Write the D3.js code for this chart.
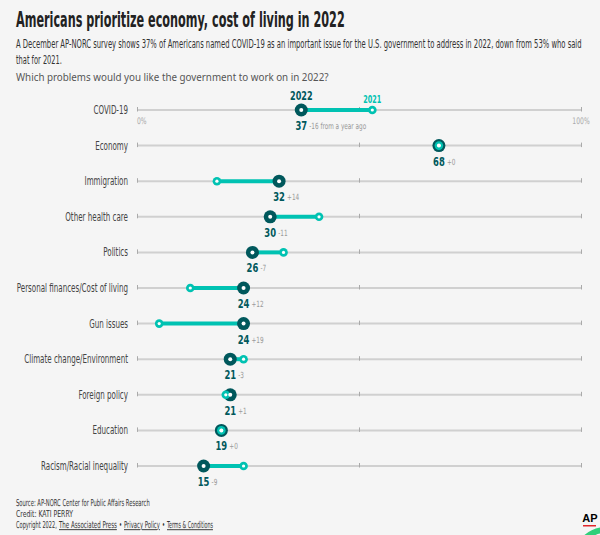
<!DOCTYPE html>
<html>
<head>
<meta charset="utf-8">
<script src="https://cdn.jsdelivr.net/npm/d3@7"></script>
<style>
  body { margin: 0; background: #f5f5f5; }
  svg { display: block; }
</style>
</head>
<body>
<script>
// data
var issues = ["COVID-19", "Economy", "Immigration", "Other health care", "Politics",
  "Personal finances/Cost of living", "Gun issues", "Climate change/Environment",
  "Foreign policy", "Education", "Racism/Racial inequality"];
var values2022 = [37, 68, 32, 30, 26, 24, 24, 21, 21, 19, 15];
var values2021 = [53, 68, 18, 41, 33, 12, 5, 24, 20, 19, 24];
var changes = ["-16 from a year ago", "+0", "+14", "-11", "-7", "+12", "+19", "-3", "+1", "+0", "-9"];
var axisTicks = [0, 50, 100];

var dark = "#00585c", bright = "#00c2b2";
var narrow = "'Liberation Sans Narrow', 'DejaVu Sans Condensed', sans-serif";

var svg = d3.select("body").append("svg")
    .attr("width", 600)
    .attr("height", 535);

svg.append("rect").attr("width", 600).attr("height", 535).attr("fill", "#f5f5f5");

// squeeze a text horizontally, either to a width (w > 1) or by a factor (w <= 1)
function squeeze(sel, w) {
    sel.each(function() {
        var t = d3.select(this);
        var px = +t.attr("x") || 0, py = +t.attr("y") || 0;
        var nat = this.getComputedTextLength();
        var k = w > 1 ? w / nat : w;
        t.attr("x", 0).attr("y", 0)
         .attr("transform", "translate(" + px + "," + py + ") scale(" + k + ",1)");
    });
}

// header
svg.append("text").attr("x", 16).attr("y", 27)
    .attr("font-family", narrow).attr("font-weight", "bold").attr("font-size", 21)
    .attr("fill", "#222").text("Americans prioritize economy, cost of living in 2022")
    .call(squeeze, 329);
svg.append("text").attr("x", 16).attr("y", 48)
    .attr("font-family", narrow).attr("font-size", 11.5).attr("fill", "#333")
    .text("A December AP-NORC survey shows 37% of Americans named COVID-19 as an important issue for the U.S. government to address in 2022, down from 53% who said")
    .call(squeeze, 566);
svg.append("text").attr("x", 16).attr("y", 64)
    .attr("font-family", narrow).attr("font-size", 11.5).attr("fill", "#333")
    .text("that for 2021.").call(squeeze, 46);
svg.append("text").attr("x", 16).attr("y", 81)
    .attr("font-family", "'Noto Sans', sans-serif").attr("font-size", 11.5).attr("fill", "#555")
    .text("Which problems would you like the government to work on in 2022?")
    .call(squeeze, 313);

var x = d3.scaleLinear().domain([0, 100]).range([137, 581]);
var y = d3.scalePoint().domain(issues).range([110, 466]);

var rows = svg.selectAll("g.row")
    .data(issues.map(function(d, i) {
        return { name: d, v22: values2022[i], v21: values2021[i], ch: changes[i] };
    }))
    .enter().append("g")
    .attr("class", "row")
    .attr("transform", function(d) { return "translate(0," + y(d.name) + ")"; });

// gray track with ticks
rows.append("line")
    .attr("x1", x(0)).attr("x2", x(100))
    .attr("stroke", "#d0d0d0").attr("stroke-width", 2);
rows.each(function() {
    var axis = d3.axisBottom(x).tickValues(axisTicks).tickSize(3).tickFormat("");
    var g = d3.select(this).append("g").attr("transform", "translate(0,-1.5)").call(axis);
    g.select(".domain").remove();
    g.selectAll(".tick line").attr("stroke", "#aaa").attr("y1", -1.5).attr("y2", 3);
});

rows.append("text")
    .attr("x", 128).attr("y", 4)
    .attr("text-anchor", "end")
    .attr("font-family", narrow).attr("font-size", 11.5).attr("fill", "#444")
    .text(function(d) { return d.name; })
    .call(squeeze, 0.69);

// connecting bar
rows.append("line")
    .attr("x1", function(d) { return x(d.v22); })
    .attr("x2", function(d) { return x(d.v21); })
    .attr("stroke", bright).attr("stroke-width", 4);

// 2022 dots
rows.append("circle")
    .attr("cx", function(d) { return x(d.v22); })
    .attr("r", 6.5).attr("fill", dark);
// 2021 dots
rows.append("circle")
    .attr("cx", function(d) { return x(d.v21); })
    .attr("r", 4.3).attr("fill", bright);
rows.append("circle")
    .attr("cx", function(d) { return x(d.v22); })
    .attr("r", 2).attr("fill", "#fff");
rows.append("circle")
    .attr("cx", function(d) { return x(d.v21); })
    .attr("r", 1.6).attr("fill", "#fff");

// value labels
rows.append("text")
    .attr("x", function(d) { return x(d.v22); })
    .attr("y", 20)
    .attr("text-anchor", "middle")
    .attr("font-family", narrow).attr("font-weight", "bold").attr("font-size", 13)
    .attr("fill", dark)
    .text(function(d) { return d.v22; })
    .call(squeeze, 0.72);
rows.append("text")
    .attr("x", function(d) { return x(d.v22) + 8; })
    .attr("y", 19)
    .attr("font-family", narrow).attr("font-size", 8.5)
    .attr("fill", "#999")
    .text(function(d) { return d.ch; })
    .call(squeeze, 0.75);

// legend on the first row
var first = y(issues[0]);
svg.append("text").attr("x", x(values2022[0])).attr("y", first - 10)
    .attr("text-anchor", "middle").attr("font-family", narrow).attr("font-weight", "bold")
    .attr("font-size", 12.5).attr("fill", dark).text("2022").call(squeeze, 0.72);
svg.append("text").attr("x", x(values2021[0])).attr("y", first - 7)
    .attr("text-anchor", "middle").attr("font-family", narrow).attr("font-weight", "bold")
    .attr("font-size", 10).attr("fill", bright).text("2021").call(squeeze, 0.72);
svg.append("text").attr("x", x(0)).attr("y", first + 14)
    .attr("font-family", narrow).attr("font-size", 9).attr("fill", "#aaa").text("0%").call(squeeze, 0.75);
svg.append("text").attr("x", x(100)).attr("y", first + 14).attr("text-anchor", "middle")
    .attr("font-family", narrow).attr("font-size", 9).attr("fill", "#aaa").text("100%").call(squeeze, 0.75);

// footer
function footText(xp, yp, str, w, under) {
    return svg.append("text").attr("x", xp).attr("y", yp)
        .attr("font-family", narrow).attr("font-size", 9.5).attr("fill", "#333")
        .attr("text-decoration", under ? "underline" : null)
        .text(str).call(squeeze, w);
}
footText(16, 506, "Source: AP-NORC Center for Public Affairs Research", 134);
footText(16, 517, "Credit: KATI PERRY", 57);
footText(16, 528, "Copyright 2022,", 41);
footText(59, 528, "The Associated Press", 58, true);
footText(119, 528, "\u2022", 3);
footText(124, 528, "Privacy Policy", 36, true);
footText(162, 528, "\u2022", 3);
footText(167, 528, "Terms & Conditions", 46, true);

// AP mark
svg.append("circle").attr("cx", 606).attr("cy", 560).attr("r", 30)
    .attr("fill", "none").attr("stroke", "#2fd07a").attr("stroke-width", 6);
svg.append("text").attr("x", 590).attr("y", 522).attr("text-anchor", "middle")
    .attr("font-family", "'Liberation Sans', sans-serif").attr("font-weight", "bold")
    .attr("font-size", 11).attr("fill", "#000").text("AP");
svg.append("rect").attr("x", 583).attr("y", 525).attr("width", 13).attr("height", 1.5).attr("fill", "#e0262b");
</script>
</body>
</html>
